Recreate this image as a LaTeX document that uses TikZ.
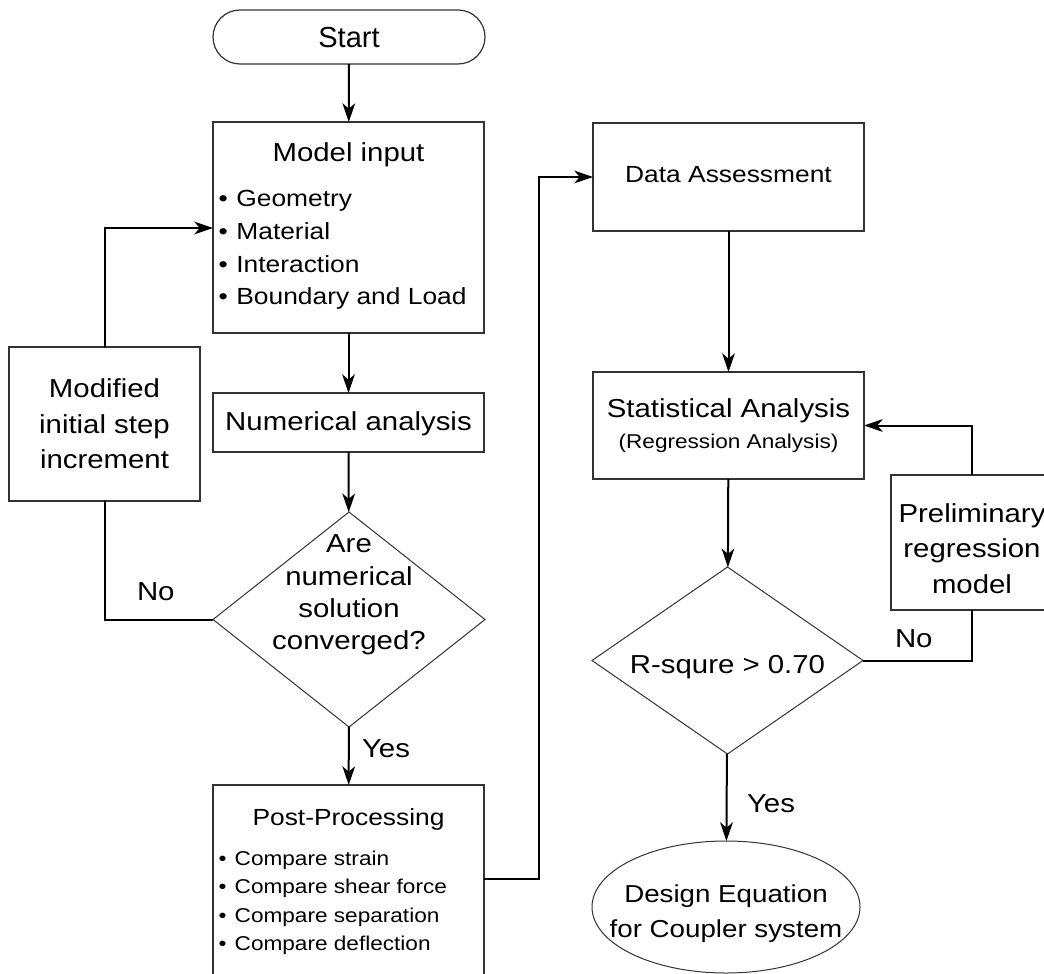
\documentclass[tikz,border=0pt]{standalone}
\usepackage{fontspec}
\setmainfont{Liberation Sans}[FakeStretch=1.13]
\newfontfamily\startfont{Liberation Sans}
\usetikzlibrary{shapes.geometric,shapes.misc,arrows.meta}

\tikzset{
  shp/.style={draw=black!80, line width=0.9pt, inner sep=0pt, outer sep=0pt},
  boxshape/.style={shp, rectangle},
  decision/.style={shp, diamond, line width=0.75pt},
  terminal/.style={shp, rounded rectangle},
  endshape/.style={shp, ellipse, line width=0.75pt},
  txt/.style={inner sep=0pt, outer sep=0pt, anchor=base, font=\fontsize{19.5}{23}\selectfont},
  txtl/.style={txt, anchor=base west},
  midtxt/.style={txt, font=\fontsize{17.5}{21}\selectfont},
  bul/.style={txtl, font=\fontsize{17.5}{21}\selectfont},
  smallbul/.style={txtl, font=\fontsize{15}{18}\selectfont},
  link/.style={line width=1.5pt, draw=black},
  arr/.style={link, -{Stealth[length=14pt,width=9.5pt,inset=4pt]}}
}

\begin{document}
\begin{tikzpicture}[x=0.75pt,y=-0.75pt]
\useasboundingbox (0,0) rectangle (1044,973);
\clip (0,0) rectangle (1044,973);
\fill[white] (0,0) rectangle (1044,973);

% ---------- left column ----------
\node[terminal, minimum width=204pt, minimum height=40.5pt] (start) at (349,37) {};
\node[txt, font=\startfont\fontsize{21.75}{26}\selectfont] (startT) at (349,48) {Start};

\node[boxshape, minimum width=203.25pt, minimum height=158.25pt] (model) at (348.5,227.5) {};
\node[txt] (modelT) at (348.5,162) {Model input};
\node[bul] (m1) at (218.5,207) {•\kern1pt{} Geometry};
\node[bul] (m2) at (218.5,240) {•\kern1pt{} Material};
\node[bul] (m3) at (218.5,272.5) {•\kern1pt{} Interaction};
\node[bul] (m4) at (218.5,305) {•\kern1pt{} Boundary and Load};

\node[boxshape, minimum width=203.25pt, minimum height=44.25pt] (num) at (348.5,422.5) {};
\node[txt] (numT) at (348.5,430) {Numerical analysis};

\node[decision, minimum width=204pt, minimum height=161.25pt] (conv) at (349,619.5) {};
\node[txt] (c1) at (349,552) {Are};
\node[txt] (c2) at (349,585) {numerical};
\node[txt] (c3) at (349,617) {solution};
\node[txt] (c4) at (349,649) {converged?};

\node[boxshape, minimum width=143.25pt, minimum height=115.5pt] (mod) at (104.5,424) {};
\node[txt] (mod1) at (104.5,397) {Modified};
\node[txt] (mod2) at (104.5,433) {initial step};
\node[txt] (mod3) at (104.5,468) {increment};

\node[boxshape, minimum width=203.25pt, minimum height=161.25pt] (post) at (348.5,892.5) {};
\node[midtxt] (postT) at (348.5,825) {Post-Processing};
\node[smallbul] (p1) at (218.5,865) {•\kern1.5pt{} Compare strain};
\node[smallbul] (p2) at (218.5,893) {•\kern1.5pt{} Compare shear force};
\node[smallbul] (p3) at (218.5,922) {•\kern1.5pt{} Compare separation};
\node[smallbul] (p4) at (218.5,950) {•\kern1.5pt{} Compare deflection};

% ---------- right column ----------
\node[boxshape, minimum width=203.25pt, minimum height=81pt] (data) at (728.5,177) {};
\node[midtxt] (dataT) at (728.5,183) {Data Assessment};

\node[boxshape, minimum width=203.25pt, minimum height=80.25pt] (stat) at (728.5,425.5) {};
\node[txt] (statT) at (728.5,417) {Statistical Analysis};
\node[txt, font=\fontsize{15}{18}\selectfont] (statS) at (728.5,448) {(Regression Analysis)};

\node[decision, minimum width=203.25pt, minimum height=140.25pt] (rsq) at (727.5,660.5) {};
\node[txt] (rsqT) at (727.5,673) {R-squre > 0.70};

\node[boxshape, minimum width=121.5pt, minimum height=101.25pt] (pre) at (972,542.5) {};
\node[txt] (pre1) at (972,522) {Preliminary};
\node[txt] (pre2) at (972,557) {regression};
\node[txt] (pre3) at (972,593) {model};

\node[endshape, minimum width=201pt, minimum height=99pt] (eqn) at (726,907) {};
\node[txt, font=\fontsize{18.4}{22}\selectfont] (eq1) at (726,902) {Design Equation};
\node[txt, font=\fontsize{18.4}{22}\selectfont] (eq2) at (726,937) {for Coupler system};

% ---------- connectors ----------
\coordinate (mloop) at (213,228);
\coordinate (pout) at (484,879);
\coordinate (pbend) at (539,879);

\draw[arr] (start) -- (model);
\draw[arr] (model) -- (num);
\draw[arr] (num) -- (conv);
\draw[arr] (conv) -- (post);
\draw[link] (conv.west) -| (mod.south);
\draw[arr] (mod.north) |- (mloop);
\draw[arr] (pout) -- (pbend) |- (data.west);

\draw[arr] (data) -- (stat);
\draw[arr] (stat) -- (rsq);
\draw[link] (rsq.east) -| (pre.south);
\draw[arr] (pre.north) |- (stat.east);
\draw[arr] (rsq) -- (eqn);

% ---------- branch labels ----------
\node[txtl] (noL) at (137,600) {No};
\node[txtl] (yesL) at (362,757) {Yes};
\node[txtl] (noR) at (895,647) {No};
\node[txtl] (yesR) at (747,812) {Yes};
\end{tikzpicture}
\end{document}
